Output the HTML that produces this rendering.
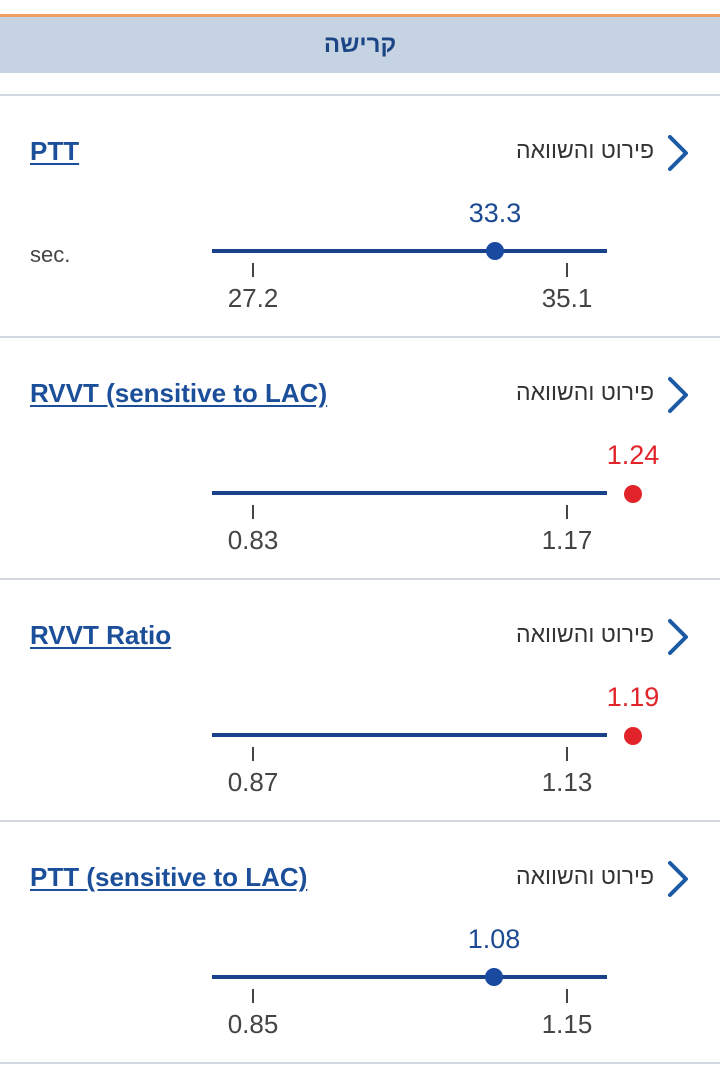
<!DOCTYPE html>
<html><head><meta charset="utf-8"><style>
body{margin:0;width:720px;height:1065px;background:#fff;position:relative;overflow:hidden;font-family:"Liberation Sans","Noto Sans CJK SC",sans-serif;}
.a{position:absolute;}
.hdr{left:0;top:14px;width:720px;height:3px;background:#f0a060;}
.band{left:0;top:17px;width:720px;height:56px;background:#c5d3e3;color:#1c4585;font-weight:bold;font-size:24px;text-align:center;line-height:56px;}
.sep{left:0;width:720px;height:2px;background:#d3d7e0;}
.title{left:30px;font-size:26px;font-weight:bold;color:#1c4f9a;text-decoration:underline;text-underline-offset:3px;}
.cmp{right:66px;font-size:23px;color:#333;}
.val{font-size:27px;color:#1c4a92;transform:translateX(-50%);}
.red{color:#e0242a;}
.line{left:212px;width:395px;height:4px;background:#1a428a;}
.tick{width:2px;height:14px;background:#444;}
.lab{font-size:26px;color:#444;transform:translateX(-50%);}
.dot{width:18px;height:18px;border-radius:50%;background:#1a4aa0;}
.rdot{background:#e0242a;}
</style></head><body>
<div class="a hdr"></div>
<div class="a band">קרישה</div>
<div class="a sep" style="top:94px"></div>

<div class="a title" style="top:136px">PTT</div>
<div class="a cmp" style="top:137px">פירוט והשוואה</div>
<svg class="a" style="left:664px;top:133px" width="30" height="40"><polyline points="6,4 22,20 6,36" fill="none" stroke="#1c5aa5" stroke-width="4" stroke-linecap="round" stroke-linejoin="round"/></svg>
<div class="a" style="left:30px;top:242px;font-size:22px;color:#444">sec.</div>
<div class="a val" style="left:495px;top:198px">33.3</div>
<div class="a line" style="top:249px"></div>
<div class="a dot" style="left:486px;top:242px"></div>
<div class="a tick" style="left:252px;top:263px"></div>
<div class="a tick" style="left:566px;top:263px"></div>
<div class="a lab" style="left:253px;top:283px">27.2</div>
<div class="a lab" style="left:567px;top:283px">35.1</div>
<div class="a sep" style="top:336px"></div>

<div class="a title" style="top:378px">RVVT (sensitive to LAC)</div>
<div class="a cmp" style="top:379px">פירוט והשוואה</div>
<svg class="a" style="left:664px;top:375px" width="30" height="40"><polyline points="6,4 22,20 6,36" fill="none" stroke="#1c5aa5" stroke-width="4" stroke-linecap="round" stroke-linejoin="round"/></svg>
<div class="a val red" style="left:633px;top:440px">1.24</div>
<div class="a line" style="top:491px"></div>
<div class="a dot rdot" style="left:624px;top:485px"></div>
<div class="a tick" style="left:252px;top:505px"></div>
<div class="a tick" style="left:566px;top:505px"></div>
<div class="a lab" style="left:253px;top:525px">0.83</div>
<div class="a lab" style="left:567px;top:525px">1.17</div>
<div class="a sep" style="top:578px"></div>

<div class="a title" style="top:620px">RVVT Ratio</div>
<div class="a cmp" style="top:621px">פירוט והשוואה</div>
<svg class="a" style="left:664px;top:617px" width="30" height="40"><polyline points="6,4 22,20 6,36" fill="none" stroke="#1c5aa5" stroke-width="4" stroke-linecap="round" stroke-linejoin="round"/></svg>
<div class="a val red" style="left:633px;top:682px">1.19</div>
<div class="a line" style="top:733px"></div>
<div class="a dot rdot" style="left:624px;top:727px"></div>
<div class="a tick" style="left:252px;top:747px"></div>
<div class="a tick" style="left:566px;top:747px"></div>
<div class="a lab" style="left:253px;top:767px">0.87</div>
<div class="a lab" style="left:567px;top:767px">1.13</div>
<div class="a sep" style="top:820px"></div>

<div class="a title" style="top:862px">PTT (sensitive to LAC)</div>
<div class="a cmp" style="top:863px">פירוט והשוואה</div>
<svg class="a" style="left:664px;top:859px" width="30" height="40"><polyline points="6,4 22,20 6,36" fill="none" stroke="#1c5aa5" stroke-width="4" stroke-linecap="round" stroke-linejoin="round"/></svg>
<div class="a val" style="left:494px;top:924px">1.08</div>
<div class="a line" style="top:975px"></div>
<div class="a dot" style="left:485px;top:968px"></div>
<div class="a tick" style="left:252px;top:989px"></div>
<div class="a tick" style="left:566px;top:989px"></div>
<div class="a lab" style="left:253px;top:1009px">0.85</div>
<div class="a lab" style="left:567px;top:1009px">1.15</div>
<div class="a sep" style="top:1062px"></div>
</body></html>
